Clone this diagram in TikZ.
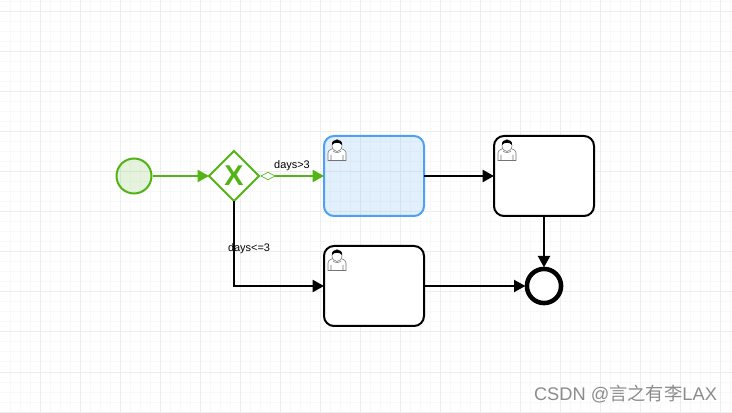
\documentclass[tikz,border=0pt]{standalone}
\usepackage{fontspec}
\setmainfont{Liberation Sans}
\newfontfamily\cjkfont{Noto Sans CJK SC}
\usetikzlibrary{positioning,arrows.meta,shapes.geometric}
\definecolor{flowgreen}{HTML}{52B415}
\definecolor{taskblue}{HTML}{4DA1F5}
\definecolor{gridmajor}{HTML}{EDEDED}
\definecolor{gridminor}{HTML}{F8F8F8}

\begin{document}
\begin{tikzpicture}[
    x=0.75pt,
    y=-0.75pt,
    font=\fontsize{8.2pt}{10pt}\selectfont,
    >={Triangle[length=8.5pt,width=9pt]},
    startevent/.style={
        circle,
        draw=flowgreen,
        fill=flowgreen,
        fill opacity=0.15,
        text opacity=1,
        line width=1.5pt,
        outer sep=0.75pt,
        inner sep=0pt,
        minimum size=26.25pt
    },
    endevent/.style={
        circle,
        draw=black,
        fill=white,
        line width=3.4pt,
        outer sep=1.2pt,
        inner sep=0pt,
        minimum size=25.6pt
    },
    gateway/.style={
        diamond,
        aspect=1,
        draw=flowgreen,
        fill=white,
        line width=1.5pt,
        outer sep=0pt,
        inner sep=0pt,
        minimum size=37.5pt,
        text=flowgreen,
        font=\fontsize{21.5pt}{21.5pt}\selectfont\bfseries
    },
    condmark/.style={
        diamond,
        draw=flowgreen,
        fill=white,
        line width=0.5pt,
        outer sep=0pt,
        inner sep=0pt,
        minimum width=10.5pt,
        minimum height=5.5pt
    },
    task/.style={
        draw=black,
        fill=white,
        rounded corners=7.5pt,
        line width=1.5pt,
        outer sep=0pt,
        minimum width=75pt,
        minimum height=60pt
    },
    activetask/.style={
        task,
        draw=taskblue,
        fill=taskblue,
        fill opacity=0.16
    },
    flowdone/.style={
        ->,
        draw=flowgreen,
        line width=1.5pt
    },
    flow/.style={
        ->,
        draw=black,
        line width=1.5pt
    },
    usericon/.pic={
        \draw[fill=white,draw=black!55,line width=0.4pt] (-9,10.5) -- (-9,3) .. controls (-9,-0.5) and (-5,-0.5) .. (-3,-2) -- (3,-2) .. controls (5,-0.5) and (9,-0.5) .. (9,3) -- (9,10.5) -- cycle;
        \draw[draw=black!55,line width=0.4pt] (-6,10.5) -- (-6,5) (6,10.5) -- (6,5) (-4,1) .. controls (-2,3) and (2,3) .. (4,1);
        \draw[fill=white,draw=black!55,line width=0.4pt] (0,-4.5) ellipse (5 and 6);
        \fill[black] (-5,-5) .. controls (-6,-12) and (6,-12) .. (5,-5) .. controls (3,-8) and (-3,-8) .. (-5,-5) -- cycle;
    }
]

% Canvas and grid
\useasboundingbox (0,0) rectangle (732,413);
\fill[white] (0,0) rectangle (732,413);
\foreach \gx in {10,20,...,730} {\draw[gridminor,line width=0.75pt] (\gx,0) -- (\gx,413);}
\foreach \gy in {2,12,...,412} {\draw[gridminor,line width=0.75pt] (0,\gy) -- (732,\gy);}
\foreach \gx in {40,80,...,720} {\draw[gridmajor,line width=0.75pt] (\gx,0) -- (\gx,413);}
\foreach \gy in {12,52,...,412} {\draw[gridmajor,line width=0.75pt] (0,\gy) -- (732,\gy);}

% Events and gateway
\node[startevent] (start) at (134,176) {};
\node[gateway] (choice) at (234,176) {X};
\node[condmark] (cond) at (268,176) {};
\node[endevent] (finish) at (544,286) {};

% Tasks
\node[activetask] (taskA) at (374,176) {};
\node[task] (taskB) at (544,176) {};
\node[task] (taskC) at (374,286) {};

% User icons
\pic at (337,150) {usericon};
\pic at (507,150) {usericon};
\pic at (337,260) {usericon};

% Flows
\draw[flowdone] (start.east) -- (choice.west);
\draw[flowdone] (cond.east) -- (taskA.west);
\draw[flow] (taskA.east) -- (taskB.west);
\draw[flow] (taskB.south) -- (finish.north);
\draw[flow] (choice.south) |- (taskC.west);
\draw[flow] (taskC.east) -- (finish.west);

% Labels
\node (labelmore) at (292,166) {days>3};
\node (labelless) at (249,249) {days<=3};
\node[text=black!45,font=\fontsize{13.7pt}{16pt}\selectfont] (mark) at (625.5,394) {CSDN @{\cjkfont 言之有李}LAX};

\end{tikzpicture}
\end{document}
